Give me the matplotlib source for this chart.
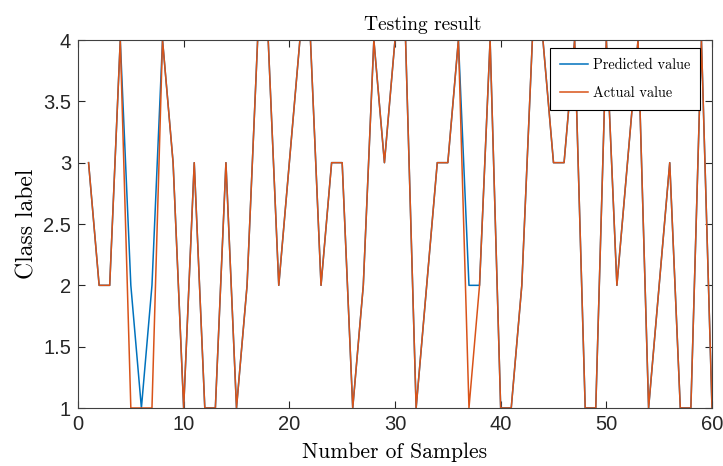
import numpy as np
import matplotlib
matplotlib.use('Agg')
import matplotlib.pyplot as plt

# samples 1..60
samples = np.arange(1, 61)
actual = [3, 2, 2, 4, 1, 1, 1, 4, 3, 1,
          3, 1, 1, 3, 1, 2, 4, 4, 2, 3,
          4, 4, 2, 3, 3, 1, 2, 4, 3, 4,
          4, 1, 2, 3, 3, 4, 1, 2, 4, 1,
          1, 2, 4, 4, 3, 3, 4, 1, 1, 4,
          2, 3, 4, 1, 2, 3, 1, 1, 4, 1]
predicted = list(actual)
predicted[4] = 2   # sample 5
predicted[6] = 2   # sample 7
predicted[36] = 2  # sample 37

x_ticks = [0, 10, 20, 30, 40, 50, 60]
y_ticks = [1, 1.5, 2, 2.5, 3, 3.5, 4]

W, H = 723, 466
fig = plt.figure(figsize=(W / 100, H / 100), dpi=100)
ax = fig.add_axes([78 / W, 1 - 408 / H, (712 - 78) / W, (408 - 40) / H])

ax.plot(samples, predicted, color='#0072BD', lw=1.1, label='Predicted value')
ax.plot(samples, actual, color='#D95319', lw=1.1, label='Actual value')

ax.set_xlim(0, 60)
ax.set_ylim(1, 4)
ax.set_xticks(x_ticks)
ax.set_yticks(y_ticks)
ax.set_xticklabels([str(t) for t in x_ticks])
ax.set_yticklabels(['1', '1.5', '2', '2.5', '3', '3.5', '4'])
ax.tick_params(direction='in', top=True, right=True, length=5, width=0.8,
               labelsize=14.5, colors='#262626', pad=5)
for lab in ax.get_xticklabels() + ax.get_yticklabels():
    lab.set_family(['Liberation Sans', 'DejaVu Sans'])
for s in ax.spines.values():
    s.set_color('#404040')
    s.set_linewidth(0.8)

serif = ['cmr10', 'DejaVu Serif']
ax.set_title('Testing result', family=serif, fontsize=14, pad=7,
             x=(423 - 78) / (712 - 78))
ax.set_xlabel('Number of Samples', family=serif, fontsize=15.5, labelpad=6)
ax.set_ylabel('Class label', family=serif, fontsize=17, labelpad=3)

leg = ax.legend(loc='upper right', bbox_to_anchor=(700 / W, 1 - 48 / H),
                bbox_transform=fig.transFigure, borderaxespad=0,
                prop={'family': serif, 'size': 10.3}, frameon=True, fancybox=False,
                edgecolor='black', framealpha=1, handlelength=2.0,
                handletextpad=0.3, labelspacing=1.0, borderpad=0.7)
leg.get_frame().set_linewidth(0.8)

fig.savefig('out.png', dpi=100)
